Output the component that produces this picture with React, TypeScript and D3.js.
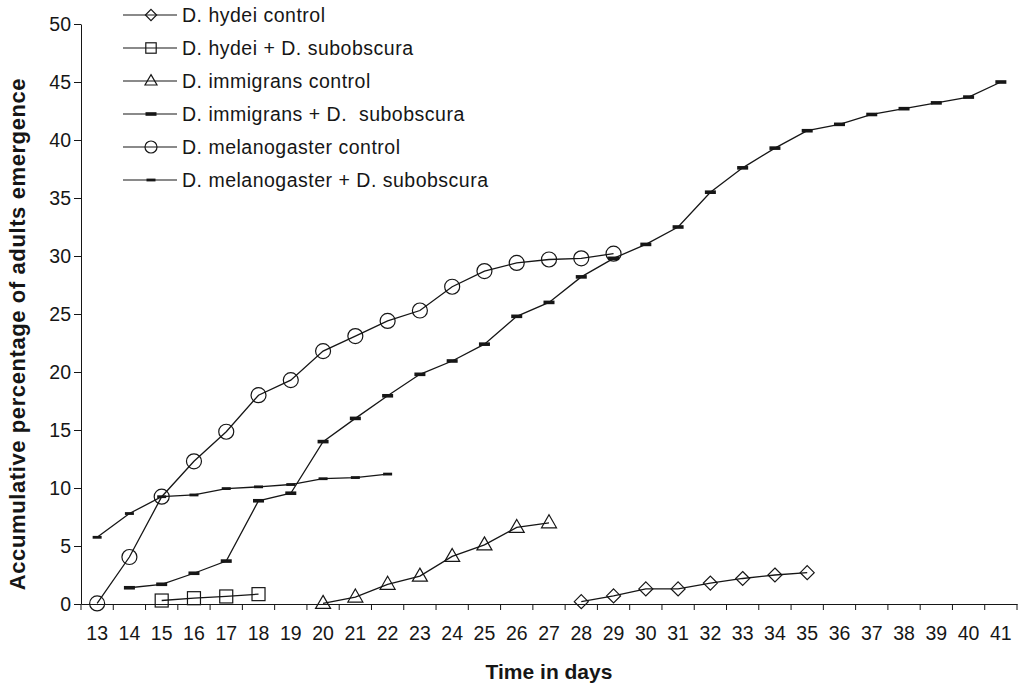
import React, { useEffect, useRef } from 'react';
import * as d3 from 'd3';

// days on the x axis
const days = [13, 14, 15, 16, 17, 18, 19, 20, 21, 22, 23, 24, 25, 26, 27, 28, 29, 30, 31, 32, 33, 34, 35, 36, 37, 38, 39, 40, 41];
const yTicks = [0, 5, 10, 15, 20, 25, 30, 35, 40, 45, 50];

const seriesNames = [
  'D. hydei control',
  'D. hydei + D. subobscura',
  'D. immigrans control',
  'D. immigrans + D.  subobscura',
  'D. melanogaster control',
  'D. melanogaster + D. subobscura',
];

// first day of each series
const startDays = [28, 15, 20, 14, 13, 13];

const hydeiControl = [0.2, 0.7, 1.3, 1.3, 1.8, 2.2, 2.5, 2.7];
const hydeiSub = [0.3, 0.5, 0.65, 0.85];
const immigransControl = [0.05, 0.6, 1.7, 2.4, 4.1, 5.1, 6.6, 7.0];
const immigransSub = [1.4, 1.7, 2.65, 3.7, 8.9, 9.55, 14.0, 16.0, 17.95, 19.8, 20.95, 22.4, 24.8, 26.0,
  28.2, 29.8, 31.0, 32.5, 35.5, 37.6, 39.3, 40.8, 41.35, 42.2, 42.7, 43.2, 43.7, 45.0];
const melanoControl = [0.05, 4.05, 9.25, 12.3, 14.85, 18.0, 19.3, 21.8, 23.1, 24.4, 25.3, 27.35, 28.7, 29.4, 29.7, 29.8, 30.2];
const melanoSub = [5.75, 7.8, 9.25, 9.4, 9.95, 10.1, 10.3, 10.8, 10.9, 11.2];

const seriesValues = [hydeiControl, hydeiSub, immigransControl, immigransSub, melanoControl, melanoSub];
const markers = ['diamond', 'square', 'triangle', 'dashBig', 'circle', 'dashSmall'];

const width = 1028;
const height = 683;
const margin = { top: 24, right: 11, bottom: 79, left: 81 };
const ink = '#161616';
const font = '"Liberation Sans", Arial, Helvetica, sans-serif';

const drawMarker = (g, type, x, y, s = 1) => {
  if (type === 'circle') {
    g.append('circle').attr('cx', x).attr('cy', y).attr('r', 7.5 * s)
      .attr('fill', 'none').attr('stroke', ink).attr('stroke-width', 1.2);
  } else if (type === 'square') {
    g.append('rect').attr('x', x - 6.5 * s).attr('y', y - 6.5 * s).attr('width', 13 * s).attr('height', 13 * s)
      .attr('fill', 'none').attr('stroke', ink).attr('stroke-width', 1.2);
  } else if (type === 'triangle') {
    g.append('path').attr('d', `M${x},${y - 8 * s}L${x + 7.5 * s},${y + 5 * s}L${x - 7.5 * s},${y + 5 * s}Z`)
      .attr('fill', 'none').attr('stroke', ink).attr('stroke-width', 1.2);
  } else if (type === 'diamond') {
    g.append('path').attr('d', `M${x},${y - 7 * s}L${x + 7 * s},${y}L${x},${y + 7 * s}L${x - 7 * s},${y}Z`)
      .attr('fill', 'none').attr('stroke', ink).attr('stroke-width', 1.2);
  } else if (type === 'dashBig') {
    g.append('rect').attr('x', x - 5.5).attr('y', y - 1.8).attr('width', 11).attr('height', 3.6).attr('fill', ink);
  } else {
    g.append('rect').attr('x', x - 4.5).attr('y', y - 1.4).attr('width', 9).attr('height', 2.8).attr('fill', ink);
  }
};

const App = () => {
  const ref = useRef(null);

  useEffect(() => {
    const svg = d3.select(ref.current);
    svg.selectAll('*').remove();

    const x = d3.scaleBand()
      .domain(days.map(String))
      .range([margin.left, width - margin.right]);

    const y = d3.scaleLinear()
      .domain([0, 50])
      .range([height - margin.bottom, margin.top]);

    // y axis
    svg.append('g')
      .attr('transform', `translate(${margin.left},0)`)
      .call(d3.axisLeft(y).tickValues(yTicks).tickSize(7).tickPadding(3).tickSizeOuter(0))
      .call(g => g.selectAll('line, path').attr('stroke', ink))
      .call(g => g.selectAll('text').attr('font-size', 19.5).attr('font-family', font).attr('fill', ink));

    // x axis labels
    svg.append('g')
      .attr('transform', `translate(0,${height - margin.bottom})`)
      .call(d3.axisBottom(x).tickSize(0).tickPadding(22))
      .call(g => g.select('.domain').attr('stroke', ink))
      .call(g => g.selectAll('text').attr('font-size', 19.5).attr('font-family', font).attr('fill', ink));

    // x ticks between the days
    const boundaries = days.map(d => x(String(d))).concat([x(String(days[days.length - 1])) + x.bandwidth()]);
    svg.append('g')
      .selectAll('line')
      .data(boundaries)
      .join('line')
      .attr('x1', d => d).attr('x2', d => d)
      .attr('y1', height - margin.bottom).attr('y2', height - margin.bottom + 6)
      .attr('stroke', ink);

    // series
    const line = d3.line().x(d => d[0]).y(d => d[1]);
    seriesValues.forEach((vals, i) => {
      const pts = vals.map((v, j) => [x(String(startDays[i] + j)) + x.bandwidth() / 2, y(v)]);
      const g = svg.append('g');
      g.append('path').attr('d', line(pts)).attr('fill', 'none').attr('stroke', ink).attr('stroke-width', 1.3);
      pts.forEach(p => drawMarker(g, markers[i], p[0], p[1]));
    });

    // legend
    const legend = svg.append('g').attr('font-family', font).attr('font-size', 19.5)
      .attr('letter-spacing', 0.5).attr('fill', ink);
    seriesNames.forEach((name, i) => {
      const ly = 15 + i * 33;
      legend.append('line').attr('x1', 123).attr('x2', 177).attr('y1', ly).attr('y2', ly)
        .attr('stroke', ink).attr('stroke-width', 1.2);
      drawMarker(legend, markers[i], 151, ly, 0.8);
      legend.append('text').attr('x', 182).attr('y', ly).attr('dy', '0.35em')
        .attr('xml:space', 'preserve').style('white-space', 'pre').text(name);
    });

    // axis titles
    svg.append('text')
      .attr('x', (margin.left + width - margin.right) / 2)
      .attr('y', 679)
      .attr('text-anchor', 'middle')
      .attr('font-family', font).attr('font-size', 21).attr('font-weight', 'bold').attr('fill', ink)
      .text('Time in days');

    svg.append('text')
      .attr('transform', `translate(25,334) rotate(-90)`)
      .attr('text-anchor', 'middle')
      .attr('font-family', font).attr('font-size', 22).attr('font-weight', 'bold')
      .attr('letter-spacing', 0.6).attr('fill', ink)
      .text('Accumulative percentage of adults emergence');
  });

  return (
    <svg
      ref={ref}
      width={width}
      height={height}
      viewBox={`0 0 ${width} ${height}`}
      style={{ position: 'absolute', left: 0, top: 0, background: '#fff' }}
    />
  );
};

export default App;
